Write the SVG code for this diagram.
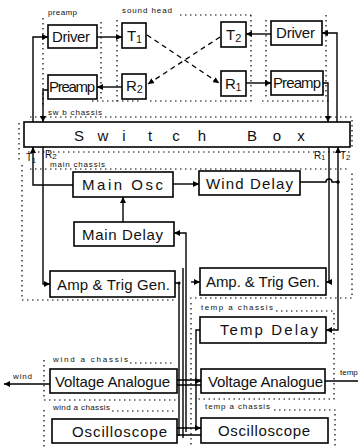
<svg xmlns="http://www.w3.org/2000/svg" width="358" height="447" viewBox="0 0 358 447">
<style>
.box{fill:#fff;stroke:#000;stroke-width:1.6}
.t{font-family:"Liberation Sans",Arial,sans-serif;font-size:15px;fill:#111}
.s{font-family:"Liberation Sans",Arial,sans-serif;font-size:8px;fill:#111}
.m{font-family:"Liberation Sans",Arial,sans-serif;font-size:10px;fill:#111}
.w{fill:none;stroke:#000;stroke-width:1.4}
.a{marker-end:url(#ah)}
.dash{fill:none;stroke:#000;stroke-width:1.3;stroke-dasharray:5 4}
.dot{fill:none;stroke:#000;stroke-width:1.2;stroke-dasharray:1.5 3.5}
</style>
<defs>
<marker id="ah" viewBox="0 0 10 10" refX="10" refY="5" markerWidth="6" markerHeight="6" markerUnits="userSpaceOnUse" orient="auto">
<path d="M0,0 L10,5 L0,10 z" fill="#000"/>
</marker>
</defs>

<g id="chassis">
<path class="dot" d="M43,18 V108 M101,22 V102 M117,20 V102 M251,15 V102 M266,20 V100 M326,15 V100 M180,15 H251 M92,101 H140 M150,101 H250 M262,101 H330"/>
<path class="dot" d="M19,123 V160 M30,117 H352 V150 M28,152 H350"/>
<path class="dot" d="M22,165 V300 H176 M190,298 H352 V170 M30,169 H350"/>
<path class="dot" d="M191,303 V447 M276,311 H334 V399 H196 M274,410 H335 V447"/>
<path class="dot" d="M44,360 V400 H177 M130,363 H172 M44,410 V447 M112,411 H176"/>
</g>

<g id="labels">
<text class="s" x="48" y="15" textLength="29">preamp</text>
<text class="s" x="122" y="13" textLength="50">sound head</text>
<text class="s" x="48" y="115" textLength="54">sw b chassis</text>
<text class="s" x="50" y="167" textLength="55">main chassis</text>
<text class="s" x="201" y="310" textLength="72">temp a chassis</text>
<text class="s" x="53" y="362" textLength="75">wind a chassis</text>
<text class="s" x="53" y="410" textLength="57">wind a chassis</text>
<text class="s" x="205" y="409" textLength="65">temp a chassis</text>
<text class="s" x="13" y="379" textLength="19">wind</text>
<text class="s" x="340" y="375">temp</text>
<text class="m" x="26" y="161">T<tspan font-size="7" dy="2">1</tspan></text>
<text class="m" x="45" y="158">R<tspan font-size="8" dy="1">2</tspan></text>
<text class="m" x="314" y="159">R<tspan font-size="7" dy="1">1</tspan></text>
<text class="m" x="340" y="159">T<tspan font-size="8" dy="1">2</tspan></text>
</g>

<g id="connectors">
<path class="w a" d="M97,37 H122"/>
<path class="w a" d="M122,87 H97"/>
<path class="w a" d="M271,34 H246"/>
<path class="w a" d="M246,83 H271"/>
<path class="dash a" d="M147,35 L219,83"/>
<path class="dash a" d="M220,37 L148,84"/>
<path class="w a" d="M33,122 V37 H48"/>
<path class="w a" d="M48,90 H43 V122"/>
<path class="w a" d="M337,122 V33 H322"/>
<path class="w a" d="M323,83 H328 V122"/>
<path class="w a" d="M73,185 H33 V147"/>
<path class="w a" d="M43,147 V284 H50"/>
<path class="w a" d="M173,184 H199"/>
<path class="w a" d="M123,222 V197"/>
<path class="w" d="M300,182 H326 A3,3 0 0 1 332,182 H338"/>
<circle cx="338" cy="182" r="1.8"/>
<path class="w a" d="M338,182 V147"/>
<path class="w a" d="M338,182 V330 H326"/>
<path class="w a" d="M329,147 V282 H326"/>
<path class="w a" d="M186,432 V233 H174"/>
<path class="w" d="M175,283 H179 V436"/>
<circle cx="179" cy="283" r="1.6"/>
<path class="w a" d="M191,282 H200"/>
<path class="w" d="M183,268 V438"/>
<path class="w" d="M177,380 H201 M177,385 H201 M177,428 H201 M177,435 H201"/>
<path class="w a" d="M200,330 H196 V428 H201"/>
<path class="w a" d="M196,381 H201"/>
<path class="w a" d="M50,384 H4"/>
<path class="w" d="M325,381 H358"/>
</g>

<g id="driverL"><rect class="box" x="48" y="25" width="49" height="23"/><text class="t" x="52" y="42" textLength="38">Driver</text></g>
<g id="preampL"><rect class="box" x="48" y="75" width="49" height="24"/><text class="t" x="49" y="92" textLength="46">Preamp</text></g>
<g id="T1"><rect class="box" x="122" y="23" width="24" height="25"/><text class="t" x="127" y="41">T<tspan font-size="10" dy="2">1</tspan></text></g>
<g id="R2"><rect class="box" x="122" y="74" width="24" height="25"/><text class="t" x="126" y="91">R<tspan font-size="11" dy="2">2</tspan></text></g>
<g id="T2"><rect class="box" x="221" y="22" width="25" height="25"/><text class="t" x="226" y="40">T<tspan font-size="11" dy="2">2</tspan></text></g>
<g id="R1"><rect class="box" x="221" y="71" width="25" height="25"/><text class="t" x="225" y="89">R<tspan font-size="10" dy="2">1</tspan></text></g>
<g id="driverR"><rect class="box" x="271" y="21" width="51" height="24"/><text class="t" x="276" y="38" textLength="39">Driver</text></g>
<g id="preampR"><rect class="box" x="271" y="71" width="52" height="24"/><text class="t" x="273" y="88" textLength="48">Preamp</text></g>
<g id="switchBox"><rect class="box" x="24" y="122" width="326" height="25"/><text class="t" font-size="16" text-anchor="middle" x="79 103 124 150 176 202 252 277 301" y="141">SwitchBox</text></g>
<g id="mainOsc"><rect class="box" x="73" y="172" width="100" height="25"/><text class="t" x="82" y="190" textLength="81">Main Osc</text></g>
<g id="windDelay"><rect class="box" x="199" y="171" width="101" height="24"/><text class="t" x="206" y="189" textLength="87">Wind Delay</text></g>
<g id="mainDelay"><rect class="box" x="74" y="222" width="100" height="24"/><text class="t" x="82" y="240" textLength="81">Main Delay</text></g>
<g id="ampL"><rect class="box" x="50" y="271" width="125" height="26"/><text class="t" x="57" y="290" textLength="113">Amp &amp; Trig Gen.</text></g>
<g id="ampR"><rect class="box" x="200" y="268" width="126" height="27"/><text class="t" x="206" y="287" textLength="114">Amp. &amp; Trig Gen.</text></g>
<g id="tempDelay"><rect class="box" x="200" y="317" width="126" height="26"/><text class="t" x="220" y="335" textLength="98">Temp Delay</text></g>
<g id="voltageR"><rect class="box" x="201" y="369" width="124" height="24"/><text class="t" x="208" y="387" textLength="115">Voltage Analogue</text></g>
<g id="oscR"><rect class="box" x="201" y="418" width="127" height="25"/><text class="t" x="218" y="436" textLength="92">Oscilloscope</text></g>
<g id="voltageL"><rect class="box" x="50" y="369" width="127" height="24"/><text class="t" x="55" y="387" textLength="115">Voltage Analogue</text></g>
<g id="oscL"><rect class="box" x="52" y="419" width="125" height="24"/><text class="t" x="72" y="437" textLength="95">Oscilloscope</text></g>
</svg>
